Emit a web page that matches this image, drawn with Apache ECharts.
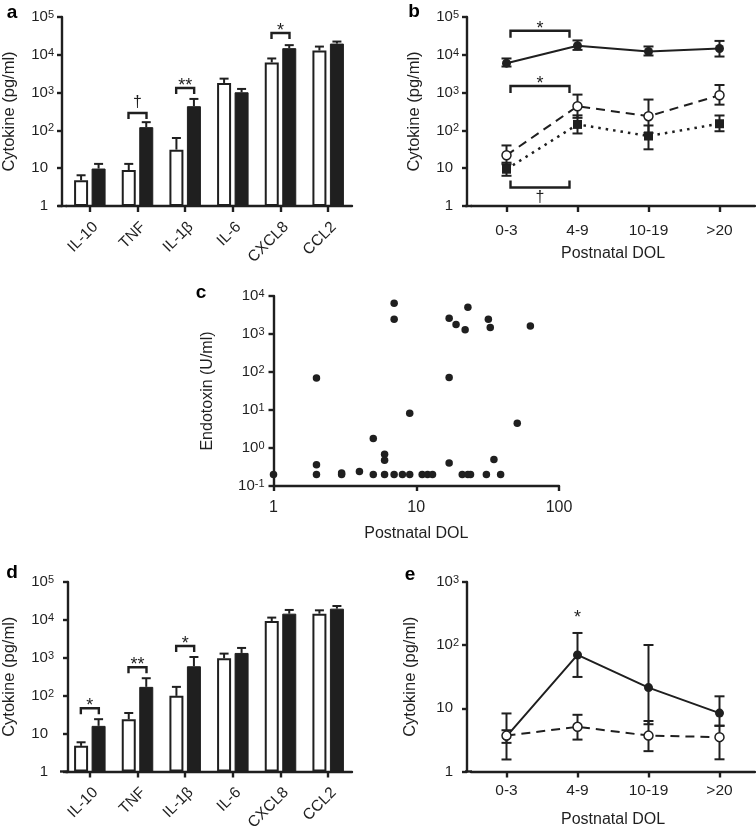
<!DOCTYPE html>
<html><head><meta charset="utf-8">
<script src="https://cdn.jsdelivr.net/npm/echarts@6/dist/echarts.min.js"></script>
<style>html,body{margin:0;padding:0;background:#fff}#c{width:756px;height:836px}</style>
</head><body><div id="c"></div>
<script>
// ---------------- Data ----------------
var cytokines = ['IL-10', 'TNF', 'IL-1β', 'IL-6', 'CXCL8', 'CCL2'];
// panel a
var aWhite    = [4.8, 8.9, 31, 1800, 6300, 13000];
var aWhiteErr = [6.5, 13, 63, 2340, 8000, 16500];
var aBlack    = [9.8, 122, 437, 1020, 15000, 19800];
var aBlackErr = [13, 165, 680, 1250, 18000, 22400];
var aBracketCats  = [1, 2, 4];
var aBracketVals  = [288, 1320, 37800];
var aBracketMarks = ['†', '**', '*'];
// panel b
var dolGroups = ['0-3', '4-9', '10-19', '>20'];
var bSolid    = [6000, 17300, 12200, 14700];
var bSolidLo  = [4900, 13500, 9600, 9000];
var bSolidHi  = [8000, 24000, 16600, 23300];
var bDashed   = [22, 436, 238, 850];
var bDashedLo = [12.7, 215, 86, 480];
var bDashedHi = [40, 885, 655, 1590];
var bDotted   = [9.4, 144, 71, 150];
var bDottedLo = [6.3, 83, 31.6, 95];
var bDottedHi = [14, 250, 135, 248];
var bBracketVals  = [43400, 1500, 3.1];
var bBracketMarks = ['*', '*', '†'];
// panel c
var cDOL = [1, 2, 2, 2, 3, 3, 4, 5, 5, 6, 6, 6, 7, 7, 7, 8, 9, 9, 11, 12, 13, 17, 17, 17, 19, 21, 22, 23, 23, 24, 31, 32, 33, 35, 39, 51, 63];
var cEndotoxin = [0.2, 0.2, 0.36, 69, 0.22, 0.2, 0.24, 1.77, 0.2, 0.68, 0.475, 0.2, 6400, 2430, 0.2, 0.2, 8.2, 0.2, 0.2, 0.2, 0.2, 2580, 72, 0.4, 1790, 0.2, 1300, 5020, 0.2, 0.2, 0.2, 2430, 1490, 0.5, 0.2, 4.5, 1620];
// panel d
var dWhite    = [4.75, 24, 99, 972, 9370, 14600];
var dWhiteErr = [5.9, 35, 171, 1290, 11500, 17900];
var dBlack    = [16, 171, 598, 1343, 14600, 19800];
var dBlackErr = [24, 289, 1050, 1820, 18300, 23300];
var dBracketCats  = [0, 1, 2];
var dBracketVals  = [46.5, 562, 2040];
var dBracketMarks = ['*', '**', '*'];
// panel e
var eSolid    = [3.6, 70, 21.3, 8.4];
var eSolidLo  = [1.55, 31.4, 5.6, 5.3];
var eSolidHi  = [8.3, 156, 100.7, 15.5];
var eDashed   = [3.7, 5.1, 3.7, 3.5];
var eDashedLo = [2.84, 3.2, 2.1, 1.56];
var eDashedHi = [4.5, 7.9, 6.3, 5.3];
var eStarCats = [1];
var eStarVals = [250];
var eStarMarks = ['*'];

// ---------------- Style ----------------
var INK = '#1f1f1f';
var FF = '"Liberation Sans", Arial, Helvetica, sans-serif';
var FS = 15;
var FSX = 15.5;
var FSN = 16.5;
var LW = 2.4;
var G = {
  a: {left: 66, top: 17, width: 286, height: 189},
  b: {left: 471, top: 17, width: 284, height: 189},
  c: {left: 273.5, top: 296, width: 285.5, height: 190},
  d: {left: 66, top: 582, width: 286, height: 189.5},
  e: {left: 471, top: 582, width: 284, height: 189.5}
};
var BAR_W = 14, BAR_OFF = 8.75;

function powLabel(allPow) {
  return function (v) {
    var n = Math.round(Math.log(v) / Math.LN10);
    if (!allPow && n === 0) return '{n|1}';
    if (!allPow && n === 1) return '{n|10}';
    return '10{s|' + n + '}';
  };
}
function rich(padR) {
  return {
    n: {fontSize: FS, color: INK, fontFamily: FF, padding: [0, padR, 0, 0]},
    s: {fontSize: 11, color: INK, fontFamily: FF, verticalAlign: 'top', padding: [0, 0, 5, 0], lineHeight: 11}
  };
}
var lineAx = {show: true, lineStyle: {color: INK, width: LW}};
function tick(len) { return {show: true, length: len, lineStyle: {color: INK, width: LW}}; }
function nameStyle(fs) { return {fontSize: fs || FSN, color: INK, fontFamily: FF}; }

function logY(gi, min, max, offset, nameGap, allPow, padR, margin) {
  return {
    gridIndex: gi, type: 'log', logBase: 10, min: min, max: max, offset: offset,
    axisLine: lineAx, axisTick: tick(5), splitLine: {show: false}, minorTick: {show: false},
    axisLabel: {formatter: powLabel(allPow), rich: rich(padR), fontSize: FS, color: INK, fontFamily: FF, margin: margin},
    name: gi === 2 ? 'Endotoxin (U/ml)' : 'Cytokine (pg/ml)',
    nameLocation: 'middle', nameGap: nameGap, nameRotate: 90, nameMoveOverlap: false,
    nameTextStyle: nameStyle()
  };
}
function catBars(gi) {
  return {
    gridIndex: gi, type: 'category', data: cytokines,
    axisLine: lineAx, axisTick: Object.assign(tick(6), {alignWithLabel: true}), splitLine: {show: false},
    axisLabel: {rotate: 45, interval: 0, fontSize: FSX, color: INK, fontFamily: FF, margin: 13, verticalAlign: 'top'}
  };
}
function catDol(gi, margin) {
  return {
    gridIndex: gi, type: 'category', data: dolGroups,
    axisLine: lineAx, axisTick: Object.assign(tick(6), {alignWithLabel: true}), splitLine: {show: false},
    axisLabel: {interval: 0, fontSize: FSX, color: INK, fontFamily: FF, margin: margin},
    name: 'Postnatal DOL', nameLocation: 'middle', nameGap: 40, nameMoveOverlap: false,
    nameTextStyle: nameStyle(16)
  };
}

// ------------- custom renderers -------------
function upperErr(offset) {
  return function (params, api) {
    var top = api.coord([api.value(0), api.value(1)]);
    var hi = api.coord([api.value(0), api.value(2)]);
    var x = top[0] + offset;
    var st = {stroke: INK, lineWidth: 2};
    return {type: 'group', children: [
      {type: 'line', shape: {x1: x, y1: top[1], x2: x, y2: hi[1]}, style: st},
      {type: 'line', shape: {x1: x - 4.5, y1: hi[1], x2: x + 4.5, y2: hi[1]}, style: st}
    ]};
  };
}
function twoErr(params, api) {
  var lo = api.coord([api.value(0), api.value(1)]);
  var hi = api.coord([api.value(0), api.value(2)]);
  var x = lo[0];
  var st = {stroke: INK, lineWidth: 2};
  return {type: 'group', children: [
    {type: 'line', shape: {x1: x, y1: lo[1], x2: x, y2: hi[1]}, style: st},
    {type: 'line', shape: {x1: x - 5, y1: hi[1], x2: x + 5, y2: hi[1]}, style: st},
    {type: 'line', shape: {x1: x - 5, y1: lo[1], x2: x + 5, y2: lo[1]}, style: st}
  ]};
}
function markText(mark, x, y, above) {
  var star = mark.indexOf('*') >= 0;
  var yy = above ? (star ? y - 2 : y - 10) : y + 10;
  return {type: 'text', style: {text: mark, x: x, y: yy, align: 'center', verticalAlign: 'middle',
    fontSize: star ? 18 : 16, fontFamily: FF, fill: INK}};
}
function barBracket(marks) {
  return function (params, api) {
    var p = api.coord([api.value(0), api.value(1)]);
    var x1 = p[0] - 9, x2 = p[0] + 9, y = p[1];
    return {type: 'group', children: [
      {type: 'polyline', shape: {points: [[x1, y + 6], [x1, y], [x2, y], [x2, y + 6]]},
        style: {stroke: INK, lineWidth: LW, fill: null}},
      markText(marks[params.dataIndex], (x1 + x2) / 2, y, true)
    ]};
  };
}
function spanBracket(marks) {
  return function (params, api) {
    var p1 = api.coord([api.value(0), api.value(2)]);
    var p2 = api.coord([api.value(1), api.value(2)]);
    var x1 = p1[0] + 4, x2 = p2[0] - 8, y = p1[1];
    var up = marks[params.dataIndex].indexOf('*') < 0;
    var leg = up ? -7 : 7;
    return {type: 'group', children: [
      {type: 'polyline', shape: {points: [[x1, y + leg], [x1, y], [x2, y], [x2, y + leg]]},
        style: {stroke: INK, lineWidth: LW, fill: null}},
      markText(marks[params.dataIndex], (x1 + x2) / 2, y, !up)
    ]};
  };
}
function starOnly(marks) {
  return function (params, api) {
    var p = api.coord([api.value(0), api.value(1)]);
    return markText(marks[params.dataIndex], p[0], p[1], true);
  };
}
function pairs(cats, vals) { return cats.map(function (c, i) { return [c, vals[i]]; }); }

// ------------- series -------------
function barSeries(gi, white, whiteErr, black, blackErr, bCats, bVals, bMarks) {
  return [
    {type: 'bar', xAxisIndex: gi, yAxisIndex: gi, data: white, barWidth: BAR_W, barGap: '25%',
      itemStyle: {color: '#fff', borderColor: INK, borderWidth: 2}, z: 2},
    {type: 'bar', xAxisIndex: gi, yAxisIndex: gi, data: black, barWidth: BAR_W, barGap: '25%',
      itemStyle: {color: INK, borderColor: INK, borderWidth: 1}, z: 2},
    {type: 'custom', xAxisIndex: gi, yAxisIndex: gi, renderItem: upperErr(-BAR_OFF),
      data: white.map(function (v, i) { return [i, v, whiteErr[i]]; }), encode: {x: 0, y: [1, 2]}, z: 3},
    {type: 'custom', xAxisIndex: gi, yAxisIndex: gi, renderItem: upperErr(BAR_OFF),
      data: black.map(function (v, i) { return [i, v, blackErr[i]]; }), encode: {x: 0, y: [1, 2]}, z: 3},
    {type: 'custom', xAxisIndex: gi, yAxisIndex: gi, renderItem: barBracket(bMarks),
      data: pairs(bCats, bVals), encode: {x: 0, y: 1}, z: 4}
  ];
}
function lineSeries(gi, vals, lo, hi, kind) {
  var s = {type: 'line', xAxisIndex: gi, yAxisIndex: gi, data: vals, z: 4,
    lineStyle: {color: INK, width: 2}, symbolSize: 9, symbol: 'circle',
    itemStyle: {color: INK, opacity: 1}};
  if (kind === 'dashed') {
    s.lineStyle.type = [9, 6];
    s.itemStyle = {color: '#fff', borderColor: INK, borderWidth: 1.5, opacity: 1};
  } else if (kind === 'dotted') {
    s.lineStyle.type = [2.5, 5];
    s.lineStyle.width = 2.5;
    s.symbol = 'rect';
    s.symbolSize = 9;
  }
  var e = {type: 'custom', xAxisIndex: gi, yAxisIndex: gi, renderItem: twoErr, z: 3,
    data: vals.map(function (v, i) { return [i, lo[i], hi[i]]; }), encode: {x: 0, y: [1, 2]}};
  return [s, e];
}

var series = []
  .concat(barSeries(0, aWhite, aWhiteErr, aBlack, aBlackErr, aBracketCats, aBracketVals, aBracketMarks))
  .concat(lineSeries(1, bSolid, bSolidLo, bSolidHi, 'solid'))
  .concat(lineSeries(1, bDashed, bDashedLo, bDashedHi, 'dashed'))
  .concat(lineSeries(1, bDotted, bDottedLo, bDottedHi, 'dotted'))
  .concat([{type: 'custom', xAxisIndex: 1, yAxisIndex: 1, renderItem: spanBracket(bBracketMarks), z: 5,
    data: bBracketVals.map(function (v) { return [0, 1, v]; }), encode: {x: [0, 1], y: 2}}])
  .concat([{type: 'scatter', xAxisIndex: 2, yAxisIndex: 2, symbol: 'circle', symbolSize: 7.5,
    itemStyle: {color: INK, opacity: 1}, data: cDOL.map(function (x, i) { return [x, cEndotoxin[i]]; }), clip: false}])
  .concat(barSeries(3, dWhite, dWhiteErr, dBlack, dBlackErr, dBracketCats, dBracketVals, dBracketMarks))
  .concat(lineSeries(4, eSolid, eSolidLo, eSolidHi, 'solid'))
  .concat(lineSeries(4, eDashed, eDashedLo, eDashedHi, 'dashed'))
  .concat([{type: 'custom', xAxisIndex: 4, yAxisIndex: 4, renderItem: starOnly(eStarMarks), z: 5,
    data: pairs(eStarCats, eStarVals), encode: {x: 0, y: 1}}]);

// axis overhang segments (Prism style: x-axis starts left of the y-axis)
function overhang(g, x0) {
  var y = g.top + g.height;
  return {type: 'line', shape: {x1: x0, y1: y, x2: g.left + 1, y2: y}, style: {stroke: INK, lineWidth: LW}, z: 10};
}
function letter(t, x, y) {
  return {type: 'text', style: {text: t, x: x, y: y, align: 'center', verticalAlign: 'middle',
    font: 'bold 19px ' + FF, fill: '#000'}, z: 10};
}

var option = {
  animation: false,
  backgroundColor: '#fff',
  grid: ['a', 'b', 'c', 'd', 'e'].map(function (k) {
    return Object.assign({containLabel: false, outerBoundsMode: 'none'}, G[k]);
  }),
  xAxis: [
    catBars(0),
    catDol(1, 17),
    {gridIndex: 2, type: 'log', logBase: 10, min: 1, max: 100,
      axisLine: lineAx, axisTick: tick(5), splitLine: {show: false}, minorTick: {show: false},
      axisLabel: {formatter: function (v) { return String(Math.round(v)); }, fontSize: 16, color: INK, fontFamily: FF, margin: 14},
      name: 'Postnatal DOL', nameLocation: 'middle', nameGap: 40, nameMoveOverlap: false, nameTextStyle: nameStyle(16)},
    catBars(3),
    catDol(4, 11)
  ],
  yAxis: [
    logY(0, 1, 100000, 4, 44, false, 6, 8),
    logY(1, 1, 100000, 4, 44, false, 6, 8),
    Object.assign(logY(2, 0.1, 10000, 0, 58, true, 0, 9), {nameTextStyle: nameStyle(16)}),
    logY(3, 1, 100000, -2, 50, false, 6, 14),
    logY(4, 1, 1000, 4, 48, false, 6, 8)
  ],
  series: series,
  graphic: [
    overhang(G.a, 58), overhang(G.b, 465), overhang(G.d, 60), overhang(G.e, 465),
    letter('a', 12, 13), letter('b', 414, 12), letter('c', 201, 293), letter('d', 12, 573), letter('e', 410, 575)
  ]
};

var chart = echarts.init(document.getElementById('c'), null, {renderer: 'canvas'});
chart.setOption(option);
</script>
</body></html>
